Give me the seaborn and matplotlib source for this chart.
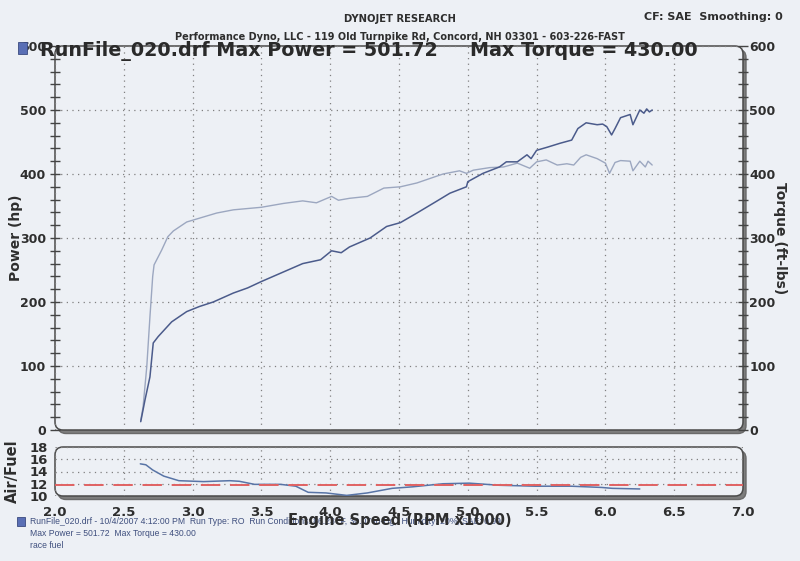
import numpy as np
import pandas as pd
import matplotlib
matplotlib.use("Agg")
import matplotlib.pyplot as plt
from matplotlib.patches import FancyBboxPatch, Rectangle
from matplotlib.ticker import MultipleLocator
import seaborn as sns

# ----------------------------- Data -----------------------------
rpm_power = [2.623, 2.654, 2.69, 2.714, 2.75, 2.848, 2.957, 3.05, 3.15, 3.296, 3.40, 3.50, 3.65,
             3.80, 3.93, 4.01, 4.08, 4.14, 4.29, 4.41, 4.51, 4.63, 4.77, 4.87, 4.99, 5.00, 5.11,
             5.23, 5.28, 5.36, 5.43, 5.46, 5.50, 5.58, 5.67, 5.755, 5.80, 5.86, 5.94, 5.98, 6.01,
             6.045, 6.07, 6.11, 6.18, 6.20, 6.25, 6.28, 6.30, 6.32, 6.34]
power_hp = [13, 47, 83, 136, 146, 169, 185, 193, 200, 214, 222, 232, 246,
            260, 266, 280, 277, 286, 300, 318, 324, 339, 357, 370, 380, 388, 401,
            411, 419, 419, 430, 424, 437, 442, 448, 453, 471, 480, 477, 478, 474,
            461, 471, 488, 493, 477, 500, 495, 501.7, 497, 500]

rpm_torque = [2.623, 2.64, 2.667, 2.69, 2.71, 2.72, 2.775, 2.82, 2.86, 2.957, 3.05, 3.175, 3.296,
              3.50, 3.66, 3.80, 3.90, 4.01, 4.06, 4.14, 4.27, 4.39, 4.51, 4.63, 4.82, 4.94, 4.99,
              5.04, 5.16, 5.26, 5.36, 5.45, 5.50, 5.57, 5.65, 5.72, 5.77, 5.82, 5.86, 5.94, 6.00,
              6.03, 6.07, 6.11, 6.18, 6.20, 6.25, 6.29, 6.31, 6.34]
torque_ftlb = [15, 36, 99, 177, 240, 258, 281, 302, 311, 325, 331, 339, 344,
               348, 354, 358, 355, 365, 359, 362, 365, 378, 380, 386, 400, 405, 401,
               406, 410, 411, 417, 409, 419, 422, 414, 416, 414, 426, 430, 424, 417,
               401, 418, 421, 420, 405, 420, 411, 420, 414]

rpm_af = [2.62, 2.66, 2.71, 2.79, 2.90, 3.08, 3.27, 3.34, 3.45, 3.64, 3.75, 3.84, 3.97, 4.12,
          4.27, 4.45, 4.60, 4.82, 5.01, 5.23, 5.49, 5.75, 5.97, 6.05, 6.25]
air_fuel = [15.25, 15.1, 14.25, 13.25, 12.5, 12.35, 12.5, 12.4, 11.9, 11.9, 11.6, 10.6, 10.5, 10.1,
            10.5, 11.25, 11.5, 12.0, 12.1, 11.75, 11.6, 11.6, 11.4, 11.25, 11.15]
af_target = 11.75

power_ticks = [0, 100, 200, 300, 400, 500, 600]
af_ticks = [10, 12, 14, 16, 18]
rpm_ticks = [2.0, 2.5, 3.0, 3.5, 4.0, 4.5, 5.0, 5.5, 6.0, 6.5, 7.0]

title_left = "RunFile_020.drf Max Power = 501.72"
title_right = "Max Torque = 430.00"
header1 = "DYNOJET RESEARCH"
header2 = "Performance Dyno, LLC - 119 Old Turnpike Rd, Concord, NH 03301 - 603-226-FAST"
header3 = "CF: SAE  Smoothing: 0"
footer = ["RunFile_020.drf - 10/4/2007 4:12:00 PM  Run Type: RO  Run Conditions: 86.23 \u00b0F, 30.07 in-Hg,  Humidity: 20%, SAE: 0.99",
          "Max Power = 501.72  Max Torque = 430.00",
          "race fuel"]

# ----------------------------- Style -----------------------------
sns.set_style("white")
plt.rcParams['font.family'] = ['DejaVu Sans']
PAPER = '#edf0f5'
INK = '#2e2e2e'
PW_COL = '#4b5b8b'
TQ_COL = '#9ca7c0'
AF_COL = '#5874a6'
RED = '#e06262'

W, H = 8.0, 5.61
fig = plt.figure(figsize=(W, H), dpi=100, facecolor=PAPER)

ax = fig.add_axes([55 / 800, 1 - 430 / 561, 688 / 800, 384 / 561])
ax2 = ax.twinx()
axf = fig.add_axes([55 / 800, 1 - 496 / 561, 688 / 800, 49 / 561])


def frame(a):
    bb = a.get_position()
    x0, y0, w, h = bb.x0 * W, bb.y0 * H, bb.width * W, bb.height * H
    style = "round,pad=0,rounding_size=0.08"
    sh = FancyBboxPatch((x0 + 0.03, y0 - 0.035), w, h, boxstyle=style,
                        transform=fig.dpi_scale_trans, fc='#7d7d7d', ec='#6a6a6a', lw=1, zorder=-3)
    bx = FancyBboxPatch((x0, y0), w, h, boxstyle=style,
                        transform=fig.dpi_scale_trans, fc=PAPER, ec='#4a4a4a', lw=1.1, zorder=-2)
    fig.add_artist(sh)
    fig.add_artist(bx)


frame(ax)
frame(axf)

for a in (ax, ax2, axf):
    a.patch.set_visible(False)
    for s in a.spines.values():
        s.set_visible(False)

# ----------------------------- Main panel -----------------------------
df_pw = pd.DataFrame({"rpm": rpm_power, "hp": power_hp})
df_tq = pd.DataFrame({"rpm": rpm_torque, "tq": torque_ftlb})
sns.lineplot(data=df_tq, x="rpm", y="tq", ax=ax, color=TQ_COL, lw=1.0, estimator=None, sort=False)
sns.lineplot(data=df_pw, x="rpm", y="hp", ax=ax, color=PW_COL, lw=1.1, estimator=None, sort=False)

ax.set_xlim(2.0, 7.0)
ax.set_ylim(0, 600)
ax2.set_ylim(0, 600)
ax.set_xticks(rpm_ticks)
ax.set_yticks(power_ticks)
ax2.set_yticks(power_ticks)
ax.yaxis.set_minor_locator(MultipleLocator(20))
ax2.yaxis.set_minor_locator(MultipleLocator(20))
ax.tick_params(axis='x', length=0, labelbottom=False)
ax.tick_params(axis='y', which='both', direction='inout', length=7, width=1, color='#444444',
               labelsize=9, labelcolor=INK, pad=3)
ax2.tick_params(axis='y', which='both', direction='inout', length=7, width=1, color='#444444',
                labelsize=9, labelcolor=INK, pad=1, right=True, labelright=True)
for lab in ax.get_yticklabels() + ax2.get_yticklabels():
    lab.set_fontweight('bold')
ax.grid(True, which='major', ls=(0, (1, 3.5)), color='#808080', lw=0.9)
ax.set_xlabel("")
ax.set_ylabel("Power (hp)", fontsize=10, fontweight='bold', color=INK)
ax.yaxis.set_label_coords(-32 / 688, 0.5)
ax2.set_ylabel("Torque (ft-lbs)", fontsize=10, fontweight='bold', color=INK, rotation=270, va='center')
ax2.yaxis.set_label_coords(1 + 37 / 688, 0.5)

# ----------------------------- Air/Fuel panel -----------------------------
df_af = pd.DataFrame({"rpm": rpm_af, "af": air_fuel})
sns.lineplot(data=df_af, x="rpm", y="af", ax=axf, color=AF_COL, lw=1.1, estimator=None, sort=False)
axf.axhline(af_target, color=RED, lw=1.4, ls=(0, (10, 5)))
axf.set_xlim(2.0, 7.0)
axf.set_ylim(10, 18)
axf.set_xticks(rpm_ticks)
axf.set_xticklabels([f"{v:.1f}" for v in rpm_ticks])
axf.set_yticks(af_ticks)
axf.xaxis.set_minor_locator(MultipleLocator(0.1))
axf.yaxis.set_minor_locator(MultipleLocator(1))
axf.tick_params(axis='both', which='both', direction='inout', length=6, width=1, color='#444444',
                labelsize=9.5, labelcolor=INK)
axf.tick_params(axis='x', pad=4)
axf.tick_params(axis='y', pad=2)
for lab in axf.get_xticklabels() + axf.get_yticklabels():
    lab.set_fontweight('bold')
axf.grid(True, which='major', ls=(0, (1, 3.5)), color='#808080', lw=0.9)
axf.set_xlabel("")
axf.set_ylabel("Air/Fuel", fontsize=10.5, fontweight='bold', color=INK)
axf.yaxis.set_label_coords(-35 / 688, 0.5)

# ----------------------------- Texts -----------------------------
fig.text(0.5, 1 - 19 / 561, header1, ha='center', va='center', fontsize=7.2, fontweight='bold', color=INK)
fig.text(0.5, 1 - 37 / 561, header2, ha='center', va='center', fontsize=7.0, fontweight='bold', color=INK)
fig.text(783 / 800, 1 - 17 / 561, header3, ha='right', va='center', fontsize=8, fontweight='bold', color=INK)
fig.text(40 / 800, 1 - 51 / 561, title_left, ha='left', va='center', fontsize=13.8, fontweight='bold',
         color='#2a2a2a', zorder=5)
fig.text(470 / 800, 1 - 51 / 561, title_right, ha='left', va='center', fontsize=13.8, fontweight='bold',
         color='#2a2a2a', zorder=5)
fig.add_artist(Rectangle((18 / 800, 1 - 54 / 561), 9 / 800, 12 / 561, transform=fig.transFigure,
                         fc='#5a6fb5', ec='#3a4a80', lw=0.6, zorder=6))

fig.text(400 / 800, 1 - 521 / 561, "Engine Speed (RPM x1000)", ha='center', va='center',
         fontsize=10.5, fontweight='bold', color=INK, zorder=5)

fig.add_artist(Rectangle((17 / 800, 1 - 526 / 561), 8 / 800, 9 / 561, transform=fig.transFigure,
                         fc='#5a6fb5', ec='#3a4a80', lw=0.6, zorder=6))
for i, line in enumerate(footer):
    fig.text(30 / 800, 1 - (522 + 12 * i) / 561, line, ha='left', va='center', fontsize=6.2,
             family=['Liberation Sans', 'DejaVu Sans'], color='#3f4f7e')

fig.savefig("out.png", dpi=100, facecolor=PAPER)
